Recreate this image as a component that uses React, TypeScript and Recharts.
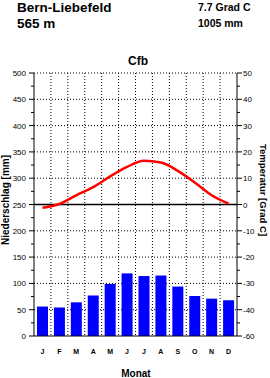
import React from "react";
import {
  ComposedChart,
  Bar,
  Line,
  XAxis,
  YAxis,
  CartesianGrid,
  ReferenceLine,
} from "recharts";

const months = ["J", "F", "M", "A", "M", "J", "J", "A", "S", "O", "N", "D"];
const precipitation = [56, 54, 64, 77, 99, 119, 114, 115, 94, 76, 71, 68];
const temperature = [-1.2, 0.2, 3.5, 6.6, 10.7, 14.3, 16.6, 16.0, 12.8, 8.4, 3.5, 0.3];
const precipTicks = [0, 25, 50, 75, 100, 125, 150, 175, 200, 225, 250, 275, 300, 325, 350, 375, 400, 425, 450, 475, 500];
const precipGrid = [50, 100, 150, 200, 300, 350, 400, 450, 500];
const tempTicks = [-50, -45, -40, -35, -30, -25, -20, -15, -10, -5, 0, 5, 10, 15, 20, 25, 30, 35, 40, 45, 50];
const tempLabels: Record<number, string> = {
  50: "50", 40: "40", 30: "30", 20: "20", 10: "10", 0: "0",
  [-10]: "-10", [-20]: "-20", [-30]: "-30", [-40]: "-40", [-50]: "-60",
};
const monthBoundaries = [1, 2, 3, 4, 5, 6, 7, 8, 9, 10, 11];
const monthCenters = [0.5, 1.5, 2.5, 3.5, 4.5, 5.5, 6.5, 7.5, 8.5, 9.5, 10.5, 11.5];

const data = months.map((m, i) => ({
  x: monthCenters[i],
  month: m,
  precip: precipitation[i],
  temp: temperature[i],
}));

const FONT = "'Liberation Sans', Arial, sans-serif";

const LeftTick = (props: any) => {
  const { x, y, payload } = props;
  const v = payload.value as number;
  const major = v % 50 === 0;
  return (
    <g>
      <line x1={x - (major ? 5 : 3)} x2={x} y1={y} y2={y} stroke="#000" strokeWidth={1} />
      {major && (
        <text x={x - 8} y={y + 3} textAnchor="end" fontSize={8} fontFamily={FONT} fill="#000">
          {v}
        </text>
      )}
    </g>
  );
};

const RightTick = (props: any) => {
  const { x, y, payload } = props;
  const v = payload.value as number;
  const major = v % 10 === 0;
  return (
    <g>
      <line x1={x} x2={x + (major ? 5 : 3)} y1={y} y2={y} stroke="#000" strokeWidth={1} />
      {major && (
        <text x={x + 6} y={y + 3} textAnchor="start" fontSize={8} fontFamily={FONT} fill="#000">
          {tempLabels[v]}
        </text>
      )}
    </g>
  );
};

const MonthTick = (props: any) => {
  const { x, y, payload, index } = props;
  return (
    <text x={x} y={y + 18} textAnchor="middle" fontSize={7} fontWeight="bold" fontFamily={FONT} fill="#000">
      {months[index ?? Math.floor(payload.value)]}
    </text>
  );
};

export default function App() {
  return (
    <div style={{ position: "absolute", left: 0, top: 0, width: 270, height: 378, background: "#fff" }}>
      <ComposedChart
        width={270}
        height={378}
        data={data}
        margin={{ top: 73, right: 0, bottom: 0, left: 0 }}
      >
        <CartesianGrid
          xAxisId="x"
          yAxisId="left"
          horizontalValues={precipGrid}
          verticalValues={monthBoundaries}
          stroke="#000"
          strokeDasharray="1 2"
          strokeWidth={1}
        />
        <XAxis
          xAxisId="x"
          dataKey="x"
          type="number"
          domain={[0, 12]}
          ticks={monthCenters}
          interval={0}
          height={42}
          tickSize={0}
          tickMargin={0}
          tickLine={false}
          axisLine={{ stroke: "#000", strokeWidth: 1 }}
          tick={<MonthTick />}
        />
        <YAxis
          yAxisId="left"
          orientation="left"
          domain={[0, 500]}
          ticks={precipTicks}
          interval={0}
          width={34}
          tickSize={0}
          tickMargin={0}
          tickLine={false}
          axisLine={{ stroke: "#000", strokeWidth: 1 }}
          tick={<LeftTick />}
        />
        <YAxis
          yAxisId="right"
          orientation="right"
          domain={[-50, 50]}
          ticks={tempTicks}
          interval={0}
          width={33}
          tickSize={0}
          tickMargin={0}
          tickLine={false}
          axisLine={{ stroke: "#000", strokeWidth: 1 }}
          tick={<RightTick />}
        />
        <ReferenceLine xAxisId="x" yAxisId="right" y={0} stroke="#000" strokeWidth={1.5} />
        <Bar
          xAxisId="x"
          yAxisId="left"
          dataKey="precip"
          fill="#0000ff"
          barSize={11}
          isAnimationActive={false}
        />
        <Line
          xAxisId="x"
          yAxisId="right"
          dataKey="temp"
          type="monotone"
          stroke="#ff0000"
          strokeWidth={2.5}
          dot={false}
          isAnimationActive={false}
        />
      </ComposedChart>
      <svg
        width={270}
        height={378}
        style={{ position: "absolute", left: 0, top: 0, pointerEvents: "none" }}
      >
        <text x={17} y={12} fontSize={13.5} fontWeight="bold" fontFamily={FONT} fill="#000">
          Bern-Liebefeld
        </text>
        <text x={17} y={28} fontSize={13.5} fontWeight="bold" fontFamily={FONT} fill="#000">
          565 m
        </text>
        <text x={198} y={11} fontSize={10.5} fontWeight="bold" fontFamily={FONT} fill="#000">
          7.7 Grad C
        </text>
        <text x={198} y={27} fontSize={10.5} fontWeight="bold" fontFamily={FONT} fill="#000">
          1005 mm
        </text>
        <text x={138} y={65} textAnchor="middle" fontSize={12} fontWeight="bold" fontFamily={FONT} fill="#000">
          Cfb
        </text>
        <text
          x={9}
          y={200}
          textAnchor="middle"
          fontSize={10}
          fontWeight="bold"
          fontFamily={FONT}
          fill="#000"
          transform="rotate(-90 9 200)"
        >
          Niederschlag [mm]
        </text>
        <text
          x={260}
          y={190}
          textAnchor="middle"
          fontSize={9.5}
          fontWeight="bold"
          fontFamily={FONT}
          fill="#000"
          transform="rotate(90 260 190)"
        >
          Temperatur [Grad C]
        </text>
        <text x={136} y={377} textAnchor="middle" fontSize={10} fontWeight="bold" fontFamily={FONT} fill="#000">
          Monat
        </text>
      </svg>
    </div>
  );
}
